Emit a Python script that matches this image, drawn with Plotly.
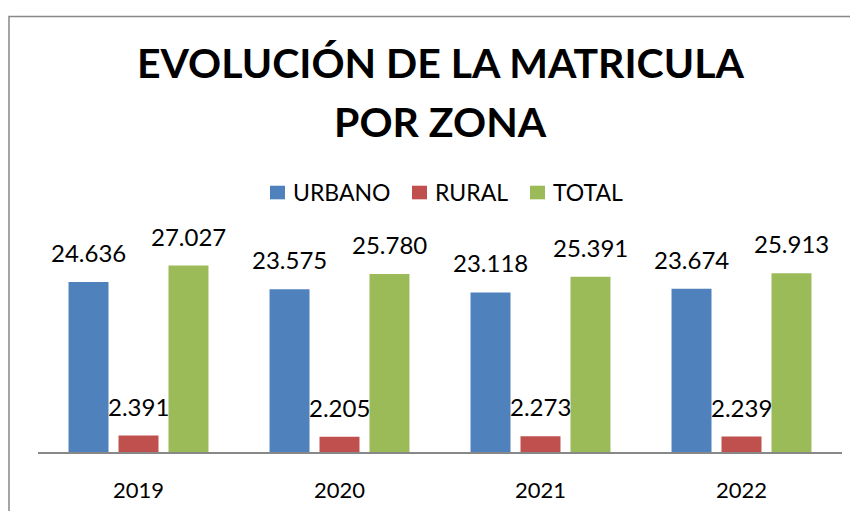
import plotly.graph_objects as go

years = ["2019", "2020", "2021", "2022"]
urbano = [24636, 23575, 23118, 23674]
rural = [2391, 2205, 2273, 2239]
total = [27027, 25780, 25391, 25913]
series_names = ["URBANO", "RURAL", "TOTAL"]
colors = ["#4F81BD", "#C0504D", "#9BBB59"]

FONT = "Lato"
bargap = 0.254
bargroupgap = 0.2

# figure geometry (page has an 8px body margin on every side)
W, H = 842, 503
L, R, T, B = 30, 8, 237, 53
PW, PH = W - L - R, H - T - B


def px(x):
    return (x - L) / PW


def py(y):
    return (H - B - y) / PH


fig = go.Figure()
xs = list(range(len(years)))
series = [urbano, rural, total]
for name, vals, col in zip(series_names, series, colors):
    fig.add_trace(go.Bar(x=xs, y=vals, name=name, showlegend=False,
                         marker=dict(color=col, line=dict(width=0))))


def fmt(v):
    return f"{v:,}".replace(",", ".")


slot = (1 - bargap) / len(series)
annotations = []
for j, vals in enumerate(series):
    for i, v in enumerate(vals):
        annotations.append(dict(
            x=i + (j - 1) * slot, y=v, xref="x", yref="y",
            text=fmt(v), showarrow=False, yanchor="bottom", yshift=13,
            font=dict(family=FONT, size=24, color="#000000")))

annotations.append(dict(x=0.5, y=py(49), xref="paper", yref="paper",
                        text="<b>EVOLUCIÓN DE LA MATRICULA</b>", showarrow=False,
                        yanchor="middle", xanchor="center",
                        font=dict(family=FONT, size=41, color="#000000")))
annotations.append(dict(x=0.5, y=py(110), xref="paper", yref="paper",
                        text="<b>POR ZONA</b>", showarrow=False,
                        yanchor="middle", xanchor="center",
                        font=dict(family=FONT, size=41, color="#000000")))

# legend (custom, to match square size and spacing)
legend_sq_x = [262, 404, 522]
shapes = []
for name, col, sx in zip(series_names, colors, legend_sq_x):
    shapes.append(dict(type="rect", xref="paper", yref="paper",
                       x0=px(sx), x1=px(sx + 15), y0=py(190), y1=py(176),
                       fillcolor=col, line=dict(width=0)))
    annotations.append(dict(x=px(sx + 21), y=py(182), xref="paper", yref="paper",
                            text=name, showarrow=False, xanchor="left", yanchor="middle",
                            font=dict(family=FONT, size=23, color="#000000")))

shapes.append(dict(type="rect", xref="paper", yref="paper",
                   x0=px(1), x1=px(880), y0=py(540), y1=py(2),
                   line=dict(color="#888888", width=1.5)))

fig.update_layout(
    width=W, height=H,
    margin=dict(l=L, r=R, t=T, b=B),
    paper_bgcolor="white", plot_bgcolor="white",
    barmode="group", bargap=bargap, bargroupgap=bargroupgap,
    font=dict(family=FONT, size=22, color="#000000"),
    showlegend=False,
    annotations=annotations,
    shapes=shapes,
)
fig.update_xaxes(tickmode="array", tickvals=xs, ticktext=years, range=[-0.5, 3.5],
                 showline=True, linecolor="#888888", linewidth=2, showgrid=False,
                 zeroline=False, ticks="", ticklabelstandoff=18,
                 tickfont=dict(family=FONT, size=22, color="#000000"))
fig.update_yaxes(range=[0, 30000], visible=False, showgrid=False, zeroline=False)

fig.write_html("out.html")
